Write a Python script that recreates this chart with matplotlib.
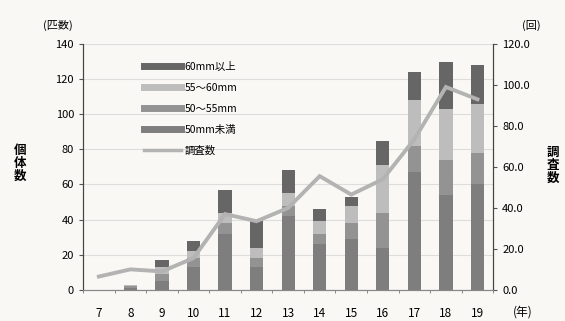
import numpy as np
import matplotlib.pyplot as plt
from matplotlib.lines import Line2D

plt.rcParams['font.family'] = ['Noto Sans CJK JP', 'DejaVu Sans']

# 年ごとのデータ
years = ['7', '8', '9', '10', '11', '12', '13', '14', '15', '16', '17', '18', '19']
under50 = [0, 1, 5, 13, 32, 13, 42, 26, 29, 24, 67, 54, 60]
s50_55 = [0, 1, 4, 5, 6, 5, 6, 6, 9, 20, 15, 20, 18]
s55_60 = [0, 1, 4, 4, 6, 6, 7, 7, 10, 27, 26, 29, 28]
over60 = [0, 0, 4, 6, 13, 15, 13, 7, 5, 14, 16, 27, 22]
survey = [6.5, 10, 9, 15.5, 37, 33.5, 40, 55.5, 46.5, 54, 73.5, 99, 93]

labels = ['60mm以上', '55～60mm', '50～55mm', '50mm未満', '調査数']
colors = ['#666666', '#bdbdbd', '#939393', '#7e7e7e']
line_color = '#b3b3b3'

fig = plt.figure(figsize=(5.65, 3.21), dpi=100, facecolor='#f9f8f5')
ax = fig.add_axes([0.147, 0.097, 0.726, 0.766])
ax.set_facecolor('#f9f8f5')
ax2 = ax.twinx()

x = np.arange(len(years))
w = 0.42
b1 = np.array(under50)
b2 = b1 + np.array(s50_55)
b3 = b2 + np.array(s55_60)
ax.bar(x, under50, w, color=colors[3], zorder=2)
ax.bar(x, s50_55, w, bottom=b1, color=colors[2], zorder=2)
ax.bar(x, s55_60, w, bottom=b2, color=colors[1], zorder=2)
ax.bar(x, over60, w, bottom=b3, color=colors[0], zorder=2)

ax2.plot(x, survey, color=line_color, lw=2.8, solid_joinstyle='miter')

ax.set_xlim(-0.5, len(years) - 0.5)
ax.set_ylim(0, 140)
ax.set_yticks(range(0, 141, 20))
ax2.set_ylim(0, 120)
ax2.set_yticks(range(0, 121, 20))
ax2.set_yticklabels(['%.1f' % v for v in range(0, 121, 20)])
ax.set_xticks(x)
ax.set_xticklabels(years)
ax.set_xticks(np.arange(-0.5, len(years), 1), minor=True)
ax.tick_params(axis='x', which='major', length=0, pad=12, labelsize=8.5)
ax.tick_params(axis='x', which='minor', length=2.5, color='#777777', direction='out')
ax.tick_params(axis='y', length=3, labelsize=8, color='#555555')
ax2.tick_params(axis='y', length=3, labelsize=8, color='#555555')
ax.yaxis.grid(True, color='#dddddd', lw=0.8, zorder=0)

for a in (ax, ax2):
    a.spines['top'].set_visible(False)
    a.spines['left'].set_color('#444444')
    a.spines['right'].set_color('#444444')
    a.spines['bottom'].set_color('#888888')

# 凡例
handles = [Line2D([], [], color=c, lw=5) for c in colors]
handles.append(Line2D([], [], color=line_color, lw=2.5))
ax.legend(handles, labels, loc='upper left', bbox_to_anchor=(0.125, 0.965),
          frameon=False, fontsize=7.5, handlelength=3.6, handletextpad=0.35,
          labelspacing=1.05)

fig.text(0.102, 0.922, '(匹数)', fontsize=8, ha='center', va='center')
fig.text(0.94, 0.922, '(回)', fontsize=8, ha='center', va='center')
fig.text(0.036, 0.49, '個\n体\n数', fontsize=9, ha='center', va='center',
         linespacing=1.0, fontweight='bold')
fig.text(0.978, 0.485, '調\n査\n数', fontsize=9, ha='center', va='center',
         linespacing=1.0, fontweight='bold')
fig.text(0.925, 0.028, '(年)', fontsize=8.5, ha='center', va='center')

fig.savefig('out.png', dpi=100, facecolor=fig.get_facecolor())
